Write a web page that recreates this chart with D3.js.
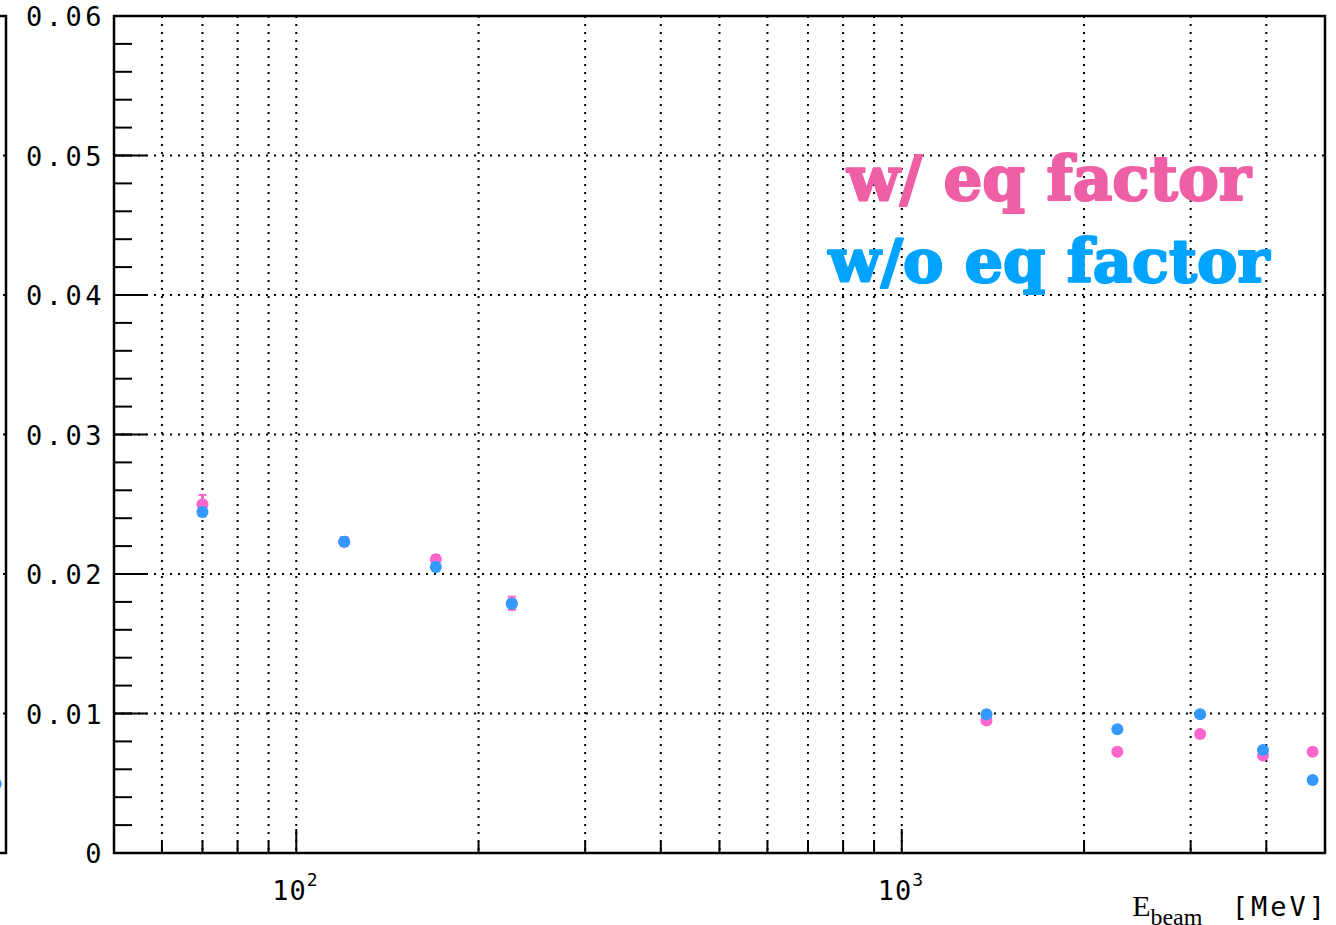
<!DOCTYPE html>
<html>
<head>
<meta charset="utf-8">
<script src="https://cdn.jsdelivr.net/npm/d3@7"></script>
<style>
  html, body { margin: 0; padding: 0; background: #fff; overflow: hidden; }
  svg { display: block; }
</style>
</head>
<body>
<svg id="chart" width="1336" height="925"></svg>
<script>
// Beam energies [MeV] of the measured runs
const energies = [70, 120, 170, 227, 1380, 2270, 3110, 3950, 4770];
// Resolution with the equivalence factor applied
const withEq = [0.0250, 0.02232, 0.02105, 0.0179, 0.0095, 0.00726, 0.00853, 0.00698, 0.00726];
const withEqErr = [0.00067, 0.0003, 0.0003, 0.00047, 0.0002, 0.0002, 0.0002, 0.0002, 0.0002];
// Resolution without the equivalence factor
const withoutEq = [0.02444, 0.02232, 0.0205, 0.01787, 0.00994, 0.00887, 0.00994, 0.00738, 0.00523];
const withoutEqErr = [0.0003, 0.0003, 0.0003, 0.0003, 0.0002, 0.0002, 0.0002, 0.0002, 0.0002];

// Neighbouring pad on the left: only its last point reaches the view
const nbEnergies = [4810];
const nbValues = [0.00495];

const yTickLabels = ["0", "0.01", "0.02", "0.03", "0.04", "0.05", "0.06"];
const yTickValues = [0, 0.01, 0.02, 0.03, 0.04, 0.05, 0.06];
const xMajorTicks = [100, 1000];
const xMajorExp = ["2", "3"];
const xMinorTicks = [60, 70, 80, 90, 200, 300, 400, 500, 600, 700, 800, 900, 2000, 3000, 4000];
const legendLabels = ["w/ eq factor", "w/o eq factor"];

const PINK = "#ff66cc", BLUE = "#3399ff";
const PINK_TXT = "#ef5fa6", BLUE_TXT = "#00a3ff";
const MONO = "'DejaVu Sans Mono', monospace";

const svg = d3.select("#chart");
const frame = { left: 114, right: 1325, top: 16, bottom: 853 };
const padW = frame.right - frame.left;

const x = d3.scaleLog().domain([50, 5000]).range([frame.left, frame.right]);
const y = d3.scaleLinear().domain([0, 0.06]).range([frame.bottom, frame.top]);

// ---------- neighbouring pad (right edge only) ----------
const xNb = d3.scaleLog().domain([50, 5000]).range([6 - padW, 6]);
const nb = svg.append("g");
nb.selectAll("line.hg").data(yTickValues.slice(1, -1)).join("line")
  .attr("x1", xNb.range()[0]).attr("x2", xNb.range()[1])
  .attr("y1", d => y(d)).attr("y2", d => y(d))
  .attr("stroke", "#000").attr("stroke-width", 2).attr("stroke-dasharray", "2,6");
nb.append("rect")
  .attr("x", xNb.range()[0]).attr("y", frame.top)
  .attr("width", padW).attr("height", frame.bottom - frame.top)
  .attr("fill", "none").attr("stroke", "#000").attr("stroke-width", 2.5);
nb.selectAll("circle").data(nbEnergies).join("circle")
  .attr("cx", d => xNb(d)).attr("cy", (d, i) => y(nbValues[i]))
  .attr("r", 6).attr("fill", BLUE);
const nbTitle = nb.append("text").attr("x", 8).attr("y", 916)
  .attr("text-anchor", "end").attr("font-family", MONO).attr("font-size", 27);
nbTitle.append("tspan").text("[MeV]").attr("letter-spacing", 3);

// ---------- main pad ----------
const g = svg.append("g");

// dotted grid
g.selectAll("line.vg").data(xMinorTicks.concat(xMajorTicks)).join("line")
  .attr("class", "vg")
  .attr("x1", d => x(d)).attr("x2", d => x(d))
  .attr("y1", frame.top).attr("y2", frame.bottom)
  .attr("stroke", "#000").attr("stroke-width", 2).attr("stroke-dasharray", "2,6");
g.selectAll("line.hg").data(yTickValues.slice(1, -1)).join("line")
  .attr("class", "hg")
  .attr("x1", frame.left).attr("x2", frame.right)
  .attr("y1", d => y(d)).attr("y2", d => y(d))
  .attr("stroke", "#000").attr("stroke-width", 2).attr("stroke-dasharray", "2,6");

// y ticks (inside the frame)
const yMinor = d3.range(0, 0.0601, 0.002);
g.selectAll("line.ymin").data(yMinor).join("line")
  .attr("class", "ymin")
  .attr("x1", frame.left).attr("x2", frame.left + 18)
  .attr("y1", d => y(d)).attr("y2", d => y(d))
  .attr("stroke", "#000").attr("stroke-width", 2);
g.selectAll("line.ymaj").data(yTickValues).join("line")
  .attr("class", "ymaj")
  .attr("x1", frame.left).attr("x2", frame.left + 33)
  .attr("y1", d => y(d)).attr("y2", d => y(d))
  .attr("stroke", "#000").attr("stroke-width", 2);
g.selectAll("text.ylab").data(yTickValues).join("text")
  .attr("class", "ylab")
  .attr("x", 105).attr("y", d => y(d) + 10)
  .attr("text-anchor", "end").attr("font-family", MONO).attr("font-size", 27)
  .attr("letter-spacing", 3.5)
  .text((d, i) => yTickLabels[i]);

// x ticks
g.selectAll("line.xmin").data(xMinorTicks).join("line")
  .attr("class", "xmin")
  .attr("x1", d => x(d)).attr("x2", d => x(d))
  .attr("y1", frame.bottom).attr("y2", frame.bottom - 12)
  .attr("stroke", "#000").attr("stroke-width", 2);
g.selectAll("line.xmaj").data(xMajorTicks).join("line")
  .attr("class", "xmaj")
  .attr("x1", d => x(d)).attr("x2", d => x(d))
  .attr("y1", frame.bottom).attr("y2", frame.bottom - 24)
  .attr("stroke", "#000").attr("stroke-width", 2);
const xl = g.selectAll("text.xlab").data(xMajorTicks).join("text")
  .attr("class", "xlab")
  .attr("x", d => x(d) - 24).attr("y", 900)
  .attr("font-family", MONO).attr("font-size", 27);
xl.append("tspan").attr("letter-spacing", 1).text("10");
xl.append("tspan").attr("font-size", 18).attr("dy", -14).text((d, i) => xMajorExp[i]);

// frame
g.append("rect")
  .attr("x", frame.left).attr("y", frame.top)
  .attr("width", padW).attr("height", frame.bottom - frame.top)
  .attr("fill", "none").attr("stroke", "#000").attr("stroke-width", 2.5);

// axis title
const xt = g.append("text").attr("x", 1328).attr("y", 916).attr("text-anchor", "end");
xt.append("tspan").attr("font-family", "'Liberation Serif', serif").attr("font-size", 30).text("E");
xt.append("tspan").attr("font-family", "'Liberation Serif', serif").attr("font-size", 24).attr("dy", 9).text("beam");
xt.append("tspan").attr("font-family", MONO).attr("font-size", 27).attr("dy", -9).attr("dx", 10)
  .attr("letter-spacing", 3).attr("xml:space", "preserve").text(" [MeV]");

// series: error bars then markers, blue drawn over pink
function drawSeries(vals, errs, color) {
  const s = g.append("g");
  s.selectAll("line.err").data(energies).join("line")
    .attr("class", "err")
    .attr("x1", d => x(d)).attr("x2", d => x(d))
    .attr("y1", (d, i) => y(vals[i] - errs[i])).attr("y2", (d, i) => y(vals[i] + errs[i]))
    .attr("stroke", color).attr("stroke-width", 2);
  [-1, 1].forEach(sign => {
    const cls = sign > 0 ? "capHi" : "capLo";
    s.selectAll("line." + cls).data(energies).join("line")
      .attr("class", cls)
      .attr("x1", d => x(d) - 4).attr("x2", d => x(d) + 4)
      .attr("y1", (d, i) => y(vals[i] + sign * errs[i]))
      .attr("y2", (d, i) => y(vals[i] + sign * errs[i]))
      .attr("stroke", color).attr("stroke-width", 2);
  });
  s.selectAll("circle").data(energies).join("circle")
    .attr("cx", d => x(d)).attr("cy", (d, i) => y(vals[i]))
    .attr("r", 6).attr("fill", color);
}
drawSeries(withEq, withEqErr, PINK);
drawSeries(withoutEq, withoutEqErr, BLUE);

// legend text, each line fitted to its width; a same-colour outline gives the heavy face
const legendSpec = [
  { text: legendLabels[0], color: PINK_TXT, cx: 1049, base: 200, w: 404 },
  { text: legendLabels[1], color: BLUE_TXT, cx: 1049, base: 282, w: 441 }
];
legendSpec.forEach(l => {
  const t = g.append("text")
    .attr("x", l.cx).attr("y", l.base).attr("text-anchor", "middle")
    .attr("font-family", "'DejaVu Serif', serif").attr("font-weight", "bold")
    .attr("font-size", 50).attr("fill", l.color)
    .attr("stroke", l.color).attr("stroke-width", 2.2).attr("stroke-linejoin", "round")
    .text(l.text);
  const w = t.node().getComputedTextLength();
  t.attr("font-size", 50 * l.w / w);
});
</script>
</body>
</html>
